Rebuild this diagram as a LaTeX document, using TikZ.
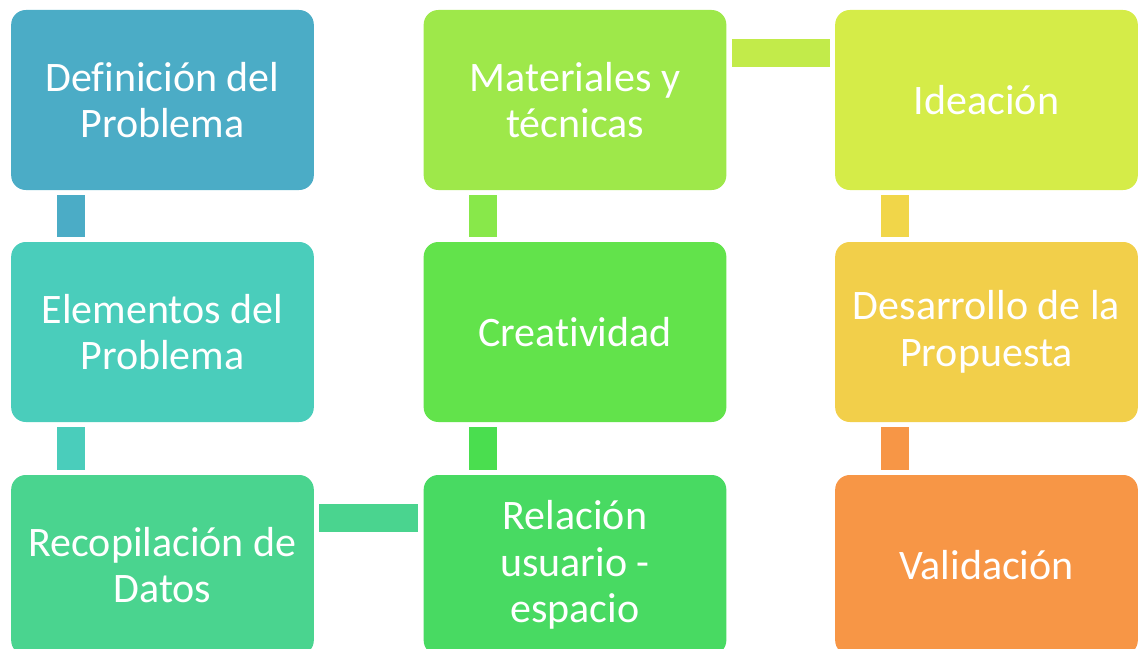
\documentclass[tikz,border=0pt]{standalone}
\usepackage{fontspec}
\setmainfont[Ligatures=NoCommon, RawFeature=-liga]{Carlito}
\usetikzlibrary{positioning}

\definecolor{cdefin}{HTML}{4BACC6}
\definecolor{celem}{HTML}{4ACDBB}
\definecolor{crecop}{HTML}{4AD48F}
\definecolor{crelac}{HTML}{48DA62}
\definecolor{ccreat}{HTML}{62E34B}
\definecolor{cmater}{HTML}{9EE84A}
\definecolor{cidea}{HTML}{D5EC48}
\definecolor{cdesa}{HTML}{F2CF4A}
\definecolor{cvalid}{HTML}{F79646}
\definecolor{lrelac}{HTML}{4ADE4F}
\definecolor{lcreat}{HTML}{88E84A}
\definecolor{lmater}{HTML}{C2EB4A}
\definecolor{lidea}{HTML}{F1D649}

\begin{document}
\begin{tikzpicture}[x=0.75pt, y=-0.75pt,
    box/.style={rounded corners=11pt, minimum width=227pt, minimum height=135pt,
      inner sep=0pt, text=white, align=center, font=\fontsize{31.5}{35}\selectfont},
    link/.style={line width=21pt}]
      \useasboundingbox (0,0) rectangle (1138,649);

      \node[box, fill=cdefin] (defin) at (162.5,100) {Definición del\\Problema};
      \node[box, fill=celem] (elem) at (162.5,332) {Elementos del\\Problema};
      \node[box, fill=crecop] (recop) at (162.5,565) {Recopilación de\\Datos};
      \node[box, fill=crelac] (relac) at (575,565) {Relación\\usuario -\\espacio};
      \node[box, fill=ccreat] (creat) at (575,332) {Creatividad};
      \node[box, fill=cmater] (mater) at (575,100) {Materiales y\\técnicas};
      \node[box, fill=cidea] (idea) at (986.5,100) {Ideación};
      \node[box, fill=cdesa] (desa) at (986.5,332) {Desarrollo de la\\Propuesta};
      \node[box, fill=cvalid] (valid) at (986.5,565) {Validación};

      \draw[link, cdefin] ([xshift=45pt, yshift=-3.75pt]defin.south west) -- ([xshift=45pt, yshift=3.75pt]elem.north west);
      \draw[link, celem] ([xshift=45pt, yshift=-3.75pt]elem.south west) -- ([xshift=45pt, yshift=3.75pt]recop.north west);
      \draw[link, crecop] ([xshift=4pt, yshift=-32.25pt]recop.north east) -- ([xshift=-4pt, yshift=-32.25pt]relac.north west);
      \draw[link, lrelac] ([xshift=45pt, yshift=3.75pt]relac.north west) -- ([xshift=45pt, yshift=-3.75pt]creat.south west);
      \draw[link, lcreat] ([xshift=45pt, yshift=3.75pt]creat.north west) -- ([xshift=45pt, yshift=-3.75pt]mater.south west);
      \draw[link, lmater] ([xshift=4pt, yshift=-32.25pt]mater.north east) -- ([xshift=-4pt, yshift=-32.25pt]idea.north west);
      \draw[link, lidea] ([xshift=45pt, yshift=-3.75pt]idea.south west) -- ([xshift=45pt, yshift=3.75pt]desa.north west);
      \draw[link, cvalid] ([xshift=45pt, yshift=-3.75pt]desa.south west) -- ([xshift=45pt, yshift=3.75pt]valid.north west);
    \end{tikzpicture}
\end{document}
